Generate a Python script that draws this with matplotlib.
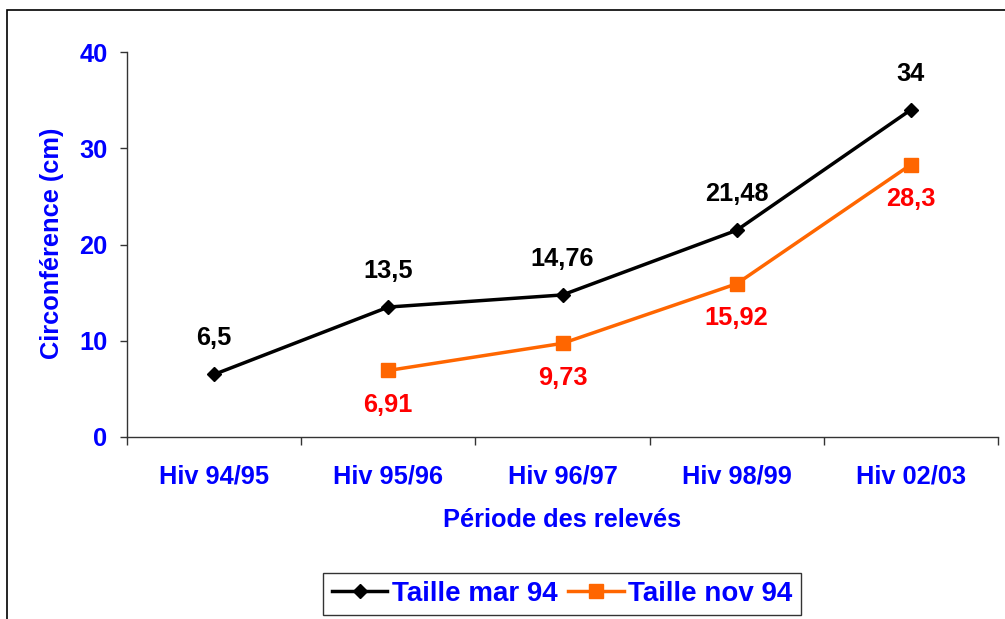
import matplotlib
matplotlib.use("Agg")
import matplotlib.pyplot as plt
from matplotlib.patches import Rectangle
import numpy as np

categories = ["Hiv 94/95", "Hiv 95/96", "Hiv 96/97", "Hiv 98/99", "Hiv 02/03"]
mar94 = [6.5, 13.5, 14.76, 21.48, 34]
nov94 = [np.nan, 6.91, 9.73, 15.92, 28.3]
mar94_labels = ["6,5", "13,5", "14,76", "21,48", "34"]
nov94_labels = ["", "6,91", "9,73", "15,92", "28,3"]
yticks = [0, 10, 20, 30, 40]

plt.rcParams['font.family'] = ['Liberation Sans', 'DejaVu Sans']
plt.rcParams['font.weight'] = 'bold'

W, H = 1005, 619
fig = plt.figure(figsize=(W / 100, H / 100), dpi=100)
ax = fig.add_axes([127 / W, 1 - 437 / H, 871 / W, (437 - 52) / H])

# outer frame
fig.patches.append(Rectangle((7 / W, -0.05), 1.1, 1 - 10 / H + 0.05,
                             transform=fig.transFigure, fill=False,
                             edgecolor='black', linewidth=1.2))

x = np.arange(len(categories))
blue = '#0000FF'
ax.plot(x, mar94, color='black', lw=2.5, marker='D', markersize=7.5,
        label='Taille mar 94', zorder=3)
ax.plot(x, nov94, color='#FF6600', lw=2.5, marker='s', markersize=9.5,
        label='Taille nov 94', zorder=3)

fs = 18.3
for xi, v, t in zip(x, mar94, mar94_labels):
    ax.annotate(t, (xi, v), xytext=(0, 26), textcoords='offset points',
                ha='center', va='center', fontsize=fs, fontweight='bold',
                color='black')
for xi, v, t in zip(x, nov94, nov94_labels):
    if t:
        ax.annotate(t, (xi, v), xytext=(0, -25), textcoords='offset points',
                    ha='center', va='center', fontsize=fs, fontweight='bold',
                    color='#FF0000')

ax.set_xlim(-0.5, len(categories) - 0.5)
ax.set_ylim(0, 40)
ax.set_yticks(yticks)
ax.set_yticklabels([str(v) for v in yticks])
ax.set_xticks(x)
ax.set_xticklabels(categories)
ax.set_xticks(np.arange(-0.5, len(categories)), minor=True)
ax.tick_params(axis='x', which='major', length=0, pad=20, labelsize=fs,
               labelcolor=blue)
ax.tick_params(axis='x', which='minor', length=6, width=1, direction='out',
               color='#333333')
ax.tick_params(axis='y', length=5, width=1, direction='out', pad=9,
               labelsize=fs, labelcolor=blue, color='#333333')
for lab in ax.get_xticklabels() + ax.get_yticklabels():
    lab.set_fontweight('bold')

for s in ['top', 'right']:
    ax.spines[s].set_visible(False)
for s in ['left', 'bottom']:
    ax.spines[s].set_color('#333333')
    ax.spines[s].set_linewidth(1)

fig.text(562 / W, 1 - 520 / H, "Période des relevés", ha='center',
         va='center', fontsize=fs, fontweight='bold', color=blue)
fig.text(52 / W, 1 - 243 / H, "Circonférence (cm)", ha='center',
         va='center', rotation=90, fontsize=fs, fontweight='bold', color=blue)

leg = fig.legend(loc='center', bbox_to_anchor=(562 / W, 1 - 594 / H),
                 ncol=2, fontsize=20, frameon=True, fancybox=False,
                 handlelength=2.0, handletextpad=0.15, columnspacing=0.4,
                 borderpad=0.3, borderaxespad=0)
leg.get_frame().set_edgecolor('black')
leg.get_frame().set_linewidth(1)
for t in leg.get_texts():
    t.set_color(blue)
    t.set_fontweight('bold')

fig.savefig('out.png', dpi=100)
